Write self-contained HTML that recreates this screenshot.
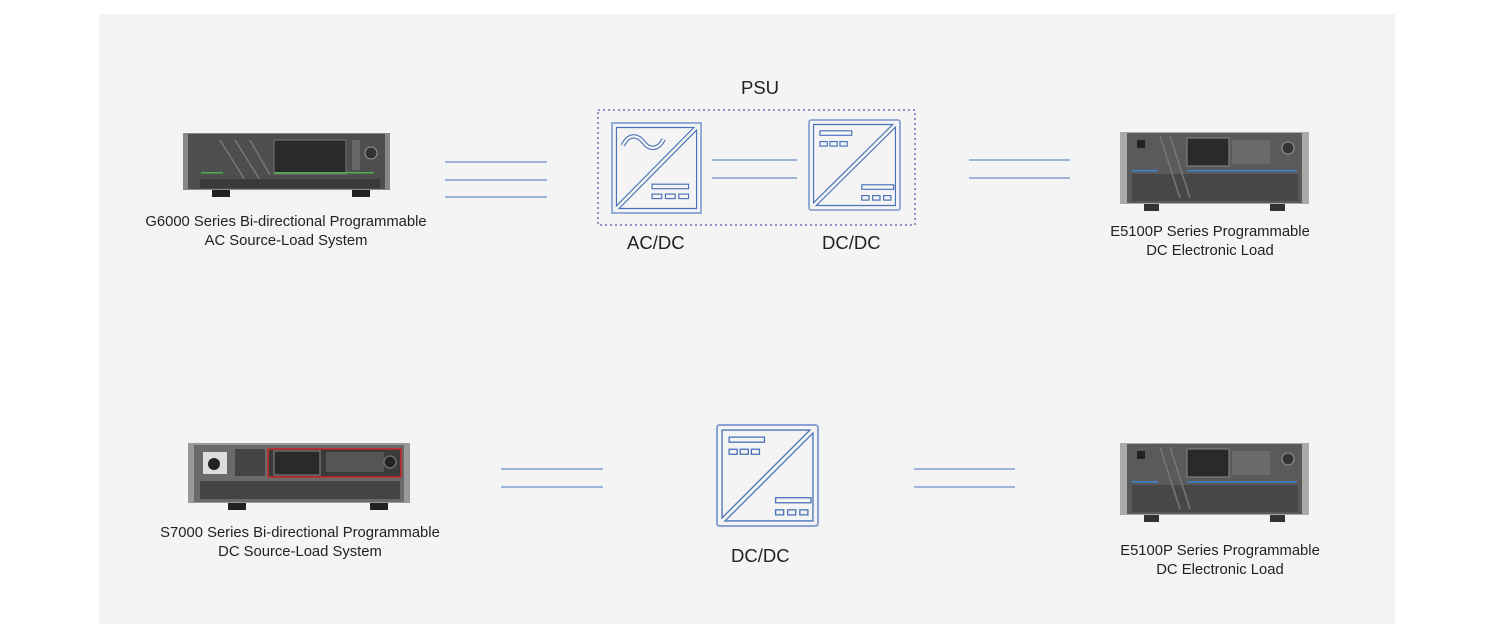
<!DOCTYPE html>
<html><head><meta charset="utf-8"><style>
html,body{margin:0;padding:0;background:#fff;}
body{width:1494px;height:636px;position:relative;overflow:hidden;font-family:"Liberation Sans",sans-serif;}
.bg{position:absolute;left:99px;top:14px;width:1296px;height:610px;background:#f4f4f4;}
.t{position:absolute;font-size:14.8px;color:#222;text-align:center;line-height:19px;white-space:nowrap;}
.b{position:absolute;font-size:18.5px;color:#222;}
svg{position:absolute;left:0;top:0;}
</style></head><body>
<div class="bg"></div>
<svg width="1494" height="636" viewBox="0 0 1494 636">
<defs>
<g id="dcdc" fill="none" stroke="#4a72b8" stroke-width="1.3">
<rect x="0" y="0" width="100" height="100" rx="2.5" stroke="#8aa3d4" stroke-width="2"/>
<polygon points="5,5 92,5 5,92"/>
<polygon points="8,95 95,8 95,95"/>
<rect x="12" y="12" width="35" height="5"/>
<rect x="12" y="24" width="8" height="5"/><rect x="23" y="24" width="8" height="5"/><rect x="34" y="24" width="8" height="5"/>
<rect x="58" y="72" width="35" height="5"/>
<rect x="58" y="84" width="8" height="5"/><rect x="70" y="84" width="8" height="5"/><rect x="82" y="84" width="8" height="5"/>
</g>
<g id="acdc" fill="none" stroke="#4a72b8" stroke-width="1.3">
<rect x="0" y="0" width="100" height="100" stroke="#8aa3d4" stroke-width="2"/>
<polygon points="5,5 92,5 5,92"/>
<polygon points="8,95 95,8 95,95"/>
<path d="M12,25 C20,10 30,14 36,22 C42,30 52,30 58,18" stroke-width="5"/>
<path d="M12,25 C20,10 30,14 36,22 C42,30 52,30 58,18" stroke="#f4f4f4" stroke-width="2.5"/>
<rect x="45" y="68" width="41" height="5"/>
<rect x="45" y="79" width="11" height="5"/><rect x="60" y="79" width="11" height="5"/><rect x="75" y="79" width="11" height="5"/>
</g>
</defs>
<g stroke="#6b8dca" stroke-width="1.3">
<line x1="445" y1="162" x2="547" y2="162"/><line x1="445" y1="180" x2="547" y2="180"/><line x1="445" y1="197" x2="547" y2="197"/>
<line x1="712" y1="160" x2="797" y2="160"/><line x1="712" y1="178" x2="797" y2="178"/>
<line x1="969" y1="160" x2="1070" y2="160"/><line x1="969" y1="178" x2="1070" y2="178"/>
<line x1="501" y1="469" x2="603" y2="469"/><line x1="501" y1="487" x2="603" y2="487"/>
<line x1="914" y1="469" x2="1015" y2="469"/><line x1="914" y1="487" x2="1015" y2="487"/>
</g>
<rect x="598" y="110" width="317" height="115" fill="none" stroke="#6a72b8" stroke-width="1.5" stroke-dasharray="2,3"/>
<g transform="translate(612,123) scale(0.89,0.9)"><use href="#acdc"/></g>
<g transform="translate(809,120) scale(0.91,0.9)"><use href="#dcdc"/></g>
<g transform="translate(717,425) scale(1.01,1.01)"><use href="#dcdc"/></g>

<g>
<rect x="212" y="189" width="18" height="8" fill="#222"/><rect x="352" y="189" width="18" height="8" fill="#222"/>
<rect x="183" y="133" width="207" height="57" fill="#888"/>
<rect x="188" y="134" width="197" height="55" fill="#4e4e4e"/>
<rect x="274" y="140" width="72" height="34" fill="#2b2b2b" stroke="#777"/>
<g stroke="#777" stroke-width="1.5"><line x1="220" y1="140" x2="245" y2="180"/><line x1="235" y1="140" x2="260" y2="180"/><line x1="250" y1="140" x2="270" y2="175"/></g>
<rect x="200" y="179" width="180" height="9" fill="#3a3a3a"/>
<rect x="201" y="172" width="22" height="1.5" fill="#4caf50"/><rect x="274" y="172" width="100" height="1.5" fill="#4caf50"/>
<circle cx="371" cy="153" r="6" fill="#333" stroke="#999"/>
<rect x="352" y="140" width="8" height="30" fill="#666"/>
</g>
<g>
<rect x="228" y="502" width="18" height="8" fill="#222"/><rect x="370" y="502" width="18" height="8" fill="#222"/>
<rect x="188" y="443" width="222" height="60" fill="#999"/>
<rect x="194" y="445" width="210" height="57" fill="#6a6a6a"/>
<rect x="203" y="452" width="24" height="22" fill="#ddd"/><circle cx="214" cy="464" r="6" fill="#222"/>
<rect x="268" y="449" width="133" height="28" fill="#3a3a3a" stroke="#c62828" stroke-width="1.5"/>
<rect x="274" y="451" width="46" height="24" fill="#2a2a2a" stroke="#888"/>
<rect x="326" y="452" width="58" height="20" fill="#555"/>
<circle cx="390" cy="462" r="6" fill="#222" stroke="#888"/>
<rect x="200" y="481" width="200" height="18" fill="#444"/>
<rect x="235" y="449" width="30" height="27" fill="#444"/>
</g>
<g id="e51">
<rect x="1144" y="203" width="15" height="8" fill="#333"/><rect x="1270" y="203" width="15" height="8" fill="#333"/>
<rect x="1120" y="132" width="189" height="72" fill="#aaa"/>
<rect x="1127" y="133" width="175" height="70" fill="#5a5a5a"/>
<rect x="1187" y="138" width="42" height="28" fill="#2a2a2a" stroke="#888"/>
<rect x="1232" y="140" width="38" height="24" fill="#6a6a6a"/>
<circle cx="1288" cy="148" r="6" fill="#333" stroke="#999"/>
<rect x="1137" y="140" width="8" height="8" fill="#222"/>
<rect x="1132" y="170" width="26" height="1.5" fill="#3a86d0"/><rect x="1187" y="170" width="110" height="1.5" fill="#3a86d0"/>
<rect x="1132" y="174" width="166" height="27" fill="#474747"/>
<g stroke="#777" stroke-width="1.5"><line x1="1160" y1="136" x2="1180" y2="198"/><line x1="1170" y1="136" x2="1190" y2="198"/></g>
</g>
<use href="#e51" transform="translate(0,311)"/>
</svg>
<div class="b" style="left:741px;top:77px;">PSU</div>
<div class="b" style="left:627px;top:232px;">AC/DC</div>
<div class="b" style="left:822px;top:232px;">DC/DC</div>
<div class="b" style="left:731px;top:545px;">DC/DC</div>
<div class="t" style="left:136px;top:213px;width:300px;">G6000 Series Bi-directional Programmable<br>AC Source-Load System</div>
<div class="t" style="left:1060px;top:223px;width:300px;">E5100P Series Programmable<br>DC Electronic Load</div>
<div class="t" style="left:150px;top:524px;width:300px;">S7000 Series Bi-directional Programmable<br>DC Source-Load System</div>
<div class="t" style="left:1070px;top:542px;width:300px;">E5100P Series Programmable<br>DC Electronic Load</div>
</body></html>
